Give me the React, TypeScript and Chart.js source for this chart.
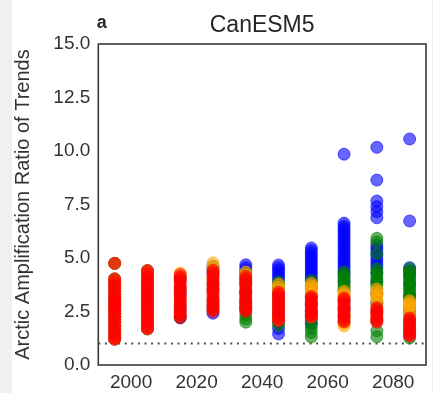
import { useEffect, useRef } from 'react';
import { Chart, registerables } from 'chart.js';

Chart.register(...registerables);

// Decade centres of the 30-year trend windows
const decades = [1995, 2005, 2015, 2025, 2035, 2045, 2055, 2065, 2075, 2085];

// Historical windows are shared by every scenario
const hist1995 = [4.75, 4.02, 3.88, 3.71, 3.6, 3.44, 3.31, 3.17, 3.05, 2.93, 2.84, 2.72, 2.6, 2.51, 2.39, 2.26, 2.12, 1.98, 1.83, 1.69, 1.54, 1.41, 1.28, 1.21];
const hist2005 = [4.41, 4.27, 4.12, 3.98, 3.86, 3.73, 3.6, 3.5, 3.38, 3.27, 3.15, 3.04, 2.92, 2.8, 2.67, 2.55, 2.41, 2.28, 2.14, 2.01, 1.88, 1.76, 1.69];

// SSP1-2.6 (red)
const ssp126 = [
  hist1995,
  hist2005,
  [4.22, 4.09, 3.95, 3.84, 3.71, 3.61, 3.47, 3.37, 3.26, 3.13, 3.02, 2.91, 2.77, 2.66, 2.54, 2.41, 2.31, 2.21],
  [4.42, 4.31, 4.17, 4.04, 3.93, 3.8, 3.69, 3.55, 3.44, 3.33, 3.19, 3.08, 2.97, 2.83, 2.72, 2.61, 2.5],
  [4.15, 4.03, 3.91, 3.77, 3.65, 3.52, 3.41, 3.28, 3.16, 3.05, 2.92, 2.81, 2.68, 2.58, 2.5],
  [3.4, 3.31, 3.18, 3.07, 2.95, 2.85, 2.73, 2.62, 2.51, 2.39, 2.28, 2.17, 2.07],
  [3.2, 3.11, 3.0, 2.91, 2.8, 2.71, 2.6, 2.51, 2.4, 2.31, 2.24],
  [3.13, 3.03, 2.92, 2.83, 2.72, 2.61, 2.52, 2.43, 2.32, 2.22, 2.12, 2.02],
  [2.68, 2.59, 2.48, 2.39, 2.28, 2.18, 2.08, 2.0],
  [2.2, 2.11, 2.01, 1.9, 1.81, 1.7, 1.61, 1.51, 1.42, 1.36],
];

// SSP2-4.5 (orange)
const ssp245 = [
  hist1995,
  hist2005,
  [4.3, 4.1, 3.6, 3.0, 2.5],
  [4.77, 4.6, 4.1, 3.5, 2.9],
  [4.35, 4.2, 3.8, 3.2, 2.7],
  [3.78, 3.62, 3.45, 3.1, 2.7, 2.3, 2.1],
  [3.82, 3.7, 3.58, 3.45, 3.3, 2.9, 2.5, 2.25],
  [3.45, 3.35, 3.25, 3.0, 2.6, 2.2, 1.95, 1.82],
  [3.55, 3.42, 3.3, 3.18, 3.06, 2.8, 2.4, 2.1],
  [3.0, 2.9, 2.8, 2.7, 2.6, 2.3, 2.0, 1.7],
];

// SSP3-7.0 (green)
const ssp370 = [
  hist1995,
  hist2005,
  [4.1, 3.5, 2.8, 2.25],
  [4.5, 3.8, 3.0, 2.6],
  [4.3, 3.9, 3.4, 2.9, 2.6, 2.35, 2.15, 2.0],
  [3.88, 3.7, 3.4, 3.0, 2.6, 2.3, 2.05, 1.85],
  [3.95, 3.7, 3.3, 2.9, 2.5, 2.2, 1.95, 1.72, 1.52, 1.31],
  [4.35, 4.22, 4.1, 3.98, 3.85, 3.72, 3.6, 3.4, 3.1, 2.7, 2.3, 2.0],
  [5.92, 5.75, 5.2, 4.5, 4.35, 4.2, 4.05, 3.9, 3.75, 3.6, 3.3, 2.9, 2.5, 2.1, 1.6, 1.32],
  [4.5, 4.38, 4.26, 4.14, 4.02, 3.9, 3.78, 3.66, 3.54, 3.42, 3.3, 3.18, 3.06, 2.8, 2.4, 2.0, 1.6, 1.26],
];

// SSP5-8.5 (blue)
const ssp585 = [
  hist1995,
  hist2005,
  [4.0, 3.3, 2.6, 2.2],
  [4.62, 4.3, 3.5, 2.8, 2.42],
  [4.68, 4.55, 4.42, 4.3, 4.1, 3.8, 3.4, 3.0, 2.7],
  [4.67, 4.55, 4.43, 4.3, 4.18, 4.05, 3.9, 3.6, 3.2, 2.8, 2.4, 2.0, 1.7, 1.45],
  [5.47, 5.35, 5.22, 5.1, 4.98, 4.86, 4.74, 4.62, 4.5, 4.38, 4.26, 4.14, 4.02, 3.9, 3.6, 3.2, 2.8, 2.4, 2.1, 1.9],
  [9.85, 6.63, 6.5, 6.38, 6.25, 6.12, 6.0, 5.88, 5.75, 5.63, 5.5, 5.38, 5.25, 5.12, 5.0, 4.88, 4.75, 4.62, 4.5, 4.35, 4.2, 3.9, 3.5, 3.0, 2.6],
  [10.17, 8.64, 7.66, 7.4, 7.16, 6.88, 5.6, 5.45, 5.3, 5.15, 5.0, 4.85, 4.7, 4.55, 4.3, 3.9, 3.4, 2.9],
  [10.56, 6.73, 4.55, 4.4, 4.2, 3.8, 3.2, 2.6],
];

const xTicks = [2000, 2020, 2040, 2060, 2080];
const yTicks = [0, 2.5, 5, 7.5, 10, 12.5, 15];
const referenceRatio = 1;

const FONT = '"Liberation Sans", Arial, Helvetica, sans-serif';
const TEXT = '#333333';

const toPoints = (cols: number[][]) =>
  cols.flatMap((vals, i) => vals.map((v) => ({ x: decades[i], y: v })));

const scatterSet = (label: string, cols: number[][], rgb: string, order: number) => ({
  type: 'scatter' as const,
  label,
  data: toPoints(cols),
  backgroundColor: `rgba(${rgb},0.6)`,
  borderColor: `rgba(${rgb},0.6)`,
  borderWidth: 1,
  pointRadius: 6,
  pointHoverRadius: 6,
  order,
});

const framePlugin = {
  id: 'frameAndHeading',
  afterDatasetsDraw(chart: any) {
    const { ctx, chartArea } = chart;
    const { left, top, right, bottom } = chartArea;
    ctx.save();
    ctx.strokeStyle = '#3a3a3a';
    ctx.lineWidth = 1.6;
    ctx.strokeRect(left, top, right - left, bottom - top);
    ctx.restore();
  },
  afterDraw(chart: any) {
    const { ctx, chartArea } = chart;
    const { left, right } = chartArea;
    ctx.save();
    ctx.fillStyle = '#262626';
    ctx.textBaseline = 'alphabetic';
    ctx.textAlign = 'center';
    ctx.font = `23px ${FONT}`;
    ctx.fillText('CanESM5', (left + right) / 2, 32);
    ctx.textAlign = 'left';
    ctx.font = `bold 18px ${FONT}`;
    ctx.fillText('a', left - 1.5, 28);
    ctx.restore();
  },
};

export default function App() {
  const canvasRef = useRef<HTMLCanvasElement | null>(null);

  useEffect(() => {
    const canvas = canvasRef.current;
    if (!canvas) return;
    const chart = new Chart(canvas, {
      type: 'scatter',
      data: {
        datasets: [
          scatterSet('SSP1-2.6', ssp126, '255,0,0', 1),
          scatterSet('SSP2-4.5', ssp245, '255,165,0', 2),
          scatterSet('SSP3-7.0', ssp370, '0,128,0', 3),
          scatterSet('SSP5-8.5', ssp585, '0,0,255', 4),
          {
            type: 'line' as const,
            label: 'ratio = 1',
            data: [
              { x: 1990, y: referenceRatio },
              { x: 2090, y: referenceRatio },
            ],
            borderColor: '#505050',
            borderWidth: 2,
            borderDash: [2, 4.6],
            pointRadius: 0,
            fill: false,
            order: 5,
          } as any,
        ],
      },
      options: {
        animation: false,
        responsive: false,
        maintainAspectRatio: false,
        events: [],
        layout: { padding: { top: 44, right: 2.3, left: 0, bottom: 0 } },
        plugins: {
          legend: { display: false },
          tooltip: { enabled: false },
          title: { display: false },
        },
        scales: {
          x: {
            type: 'linear',
            min: 1990,
            max: 2090,
            grid: { display: false, drawTicks: false },
            border: { display: false },
            afterBuildTicks: (s: any) => {
              s.ticks = xTicks.map((v) => ({ value: v }));
            },
            afterFit: (s: any) => {
              s.height = 28;
            },
            ticks: {
              padding: 6,
              maxRotation: 0,
              autoSkip: false,
              color: TEXT,
              font: { family: FONT, size: 19 },
              callback: (v: any) => String(v),
            },
          },
          y: {
            type: 'linear',
            min: 0,
            max: 15,
            grid: { display: false, drawTicks: false },
            border: { display: false },
            afterBuildTicks: (s: any) => {
              s.ticks = yTicks.map((v) => ({ value: v }));
            },
            afterFit: (s: any) => {
              s.width = 98.3;
            },
            title: {
              display: true,
              text: 'Arctic Amplification Ratio of Trends',
              color: TEXT,
              font: { family: FONT, size: 20 },
              padding: { top: 11, bottom: 0 },
            },
            ticks: {
              padding: 8,
              autoSkip: false,
              color: TEXT,
              font: { family: FONT, size: 19 },
              callback: (v: any) => Number(v).toFixed(1),
            },
          },
        },
      },
      plugins: [framePlugin],
    });
    return () => chart.destroy();
  }, []);

  return (
    <div
      style={{
        position: 'fixed',
        left: 0,
        top: 0,
        width: 433,
        height: 393,
        background: '#f0f0f0',
      }}
    >
      <div
        style={{
          position: 'absolute',
          left: 12,
          top: 0,
          width: 419.5,
          height: 393,
          background: '#ffffff',
        }}
      />
      <canvas
        ref={canvasRef}
        width={433}
        height={393}
        style={{ position: 'absolute', left: 0, top: 0, width: 433, height: 393 }}
      />
    </div>
  );
}
